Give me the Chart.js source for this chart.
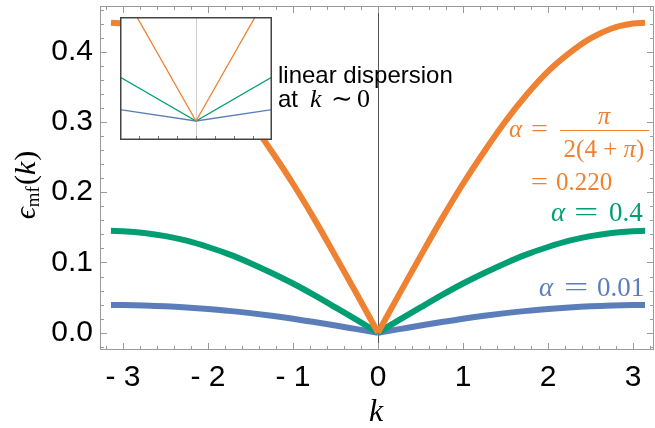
<!DOCTYPE html>
<html>
<head>
<meta charset="utf-8">
<script src="https://cdn.jsdelivr.net/npm/chart.js@4.4.1/dist/chart.umd.min.js"></script>
<style>
  html, body { margin: 0; padding: 0; background: #fff; }
  #wrap { position: relative; width: 655px; height: 428px; }
  #mainChart { position: absolute; left: 0; top: 0; }
  #insetChart { position: absolute; left: 120px; top: 17px; background: #fff; }
</style>
</head>
<body>
<div id="wrap">
  <canvas id="mainChart" width="655" height="428"></canvas>
  <canvas id="insetChart" width="152" height="123"></canvas>
</div>
<script>
// values (k from -pi to pi)
const kValues = [-3.1416, -3, -2.75, -2.5, -2.25, -2, -1.75, -1.5, -1.25, -1, -0.75, -0.5, -0.25,
  0, 0.25, 0.5, 0.75, 1, 1.25, 1.5, 1.75, 2, 2.25, 2.5, 2.75, 3, 3.1416];

const orangeVals = [0.441, 0.440, 0.433, 0.419, 0.398, 0.372, 0.339, 0.301, 0.258, 0.212, 0.162, 0.109, 0.055,
  0, 0.055, 0.109, 0.162, 0.212, 0.258, 0.301, 0.339, 0.372, 0.398, 0.419, 0.433, 0.440, 0.441];
const greenVals = [0.145, 0.1445, 0.142, 0.1375, 0.131, 0.122, 0.1115, 0.099, 0.085, 0.070, 0.0535, 0.036, 0.0182,
  0, 0.0182, 0.036, 0.0535, 0.070, 0.085, 0.099, 0.1115, 0.122, 0.131, 0.1375, 0.142, 0.1445, 0.145];
const blueVals = [0.0395, 0.0394, 0.0387, 0.0376, 0.0359, 0.0337, 0.0311, 0.0279, 0.0242, 0.0200, 0.0152, 0.0102, 0.0051,
  0, 0.0051, 0.0102, 0.0152, 0.0200, 0.0242, 0.0279, 0.0311, 0.0337, 0.0359, 0.0376, 0.0387, 0.0394, 0.0395];

// inset: zoom around k ~ 0
const insetK = [-0.1, 0, 0.1];
const insetOrange = [0.0222, 0, 0.0222];
const insetGreen = [0.0073, 0, 0.0073];
const insetBlue = [0.0019, 0, 0.0019];

const xTicks = [-3, -2, -1, 0, 1, 2, 3];
const yTicks = [0, 0.1, 0.2, 0.3, 0.4];

const ORANGE = "#ef8132";
const GREEN = "#009e72";
const BLUE = "#5b7ebb";
const FRAME = "#9a9a9a";
const SANS = "'Liberation Sans', Arial, sans-serif";
const SERIF = "'Liberation Serif', 'DejaVu Serif', serif";

function series(xs, ys, color, width, smooth) {
  return {
    data: xs.map((k, i) => ({ x: k, y: ys[i] })),
    borderColor: color,
    borderWidth: width,
    pointRadius: 0,
    fill: false,
    tension: 0,
    cubicInterpolationMode: smooth ? "monotone" : "default",
  };
}

// the cusp at k = 0 must stay sharp, so each curve is drawn as two smooth halves
const mid = kValues.indexOf(0);
function halves(ys, color) {
  return [
    series(kValues.slice(0, mid + 1), ys.slice(0, mid + 1), color, 6, true),
    series(kValues.slice(mid), ys.slice(mid), color, 6, true),
  ];
}

// draw text pieces with mixed fonts one after another
function runs(ctx, parts, x, y, align) {
  let total = 0;
  parts.forEach((p) => { ctx.font = p.f; total += ctx.measureText(p.t).width + (p.gap || 0); });
  let cx = align === "center" ? x - total / 2 : x;
  ctx.textAlign = "left";
  ctx.textBaseline = "alphabetic";
  parts.forEach((p) => {
    ctx.font = p.f;
    ctx.fillText(p.t, cx, y + (p.dy || 0));
    cx += ctx.measureText(p.t).width + (p.gap || 0);
  });
}

// Mathematica's "=" is wider than the Times one
function wideEq(ctx, x, y, size, stretch) {
  ctx.save();
  ctx.font = `${size}px ${SERIF}`;
  ctx.textAlign = "left";
  ctx.textBaseline = "alphabetic";
  ctx.translate(x, y);
  ctx.scale(stretch, 1);
  ctx.fillText("=", 0, 0);
  ctx.restore();
}

const framePlugin = {
  id: "frame",
  beforeDatasetsDraw(chart) {
    const { ctx, chartArea: a, scales } = chart;
    const x0 = Math.round(scales.x.getPixelForValue(0)) + 0.5;
    ctx.save();
    ctx.strokeStyle = "#555";
    ctx.lineWidth = 1;
    ctx.beginPath();
    ctx.moveTo(x0, a.top);
    ctx.lineTo(x0, a.bottom);
    ctx.stroke();
    ctx.restore();
  },
  afterDatasetsDraw(chart) {
    const { ctx, chartArea: a, scales } = chart;
    const xs = scales.x, ys = scales.y;
    ctx.save();
    ctx.strokeStyle = FRAME;
    ctx.lineWidth = 1;
    ctx.beginPath();
    // x ticks, inward, bottom and top
    for (let i = -16; i <= 16; i++) {
      const len = i % 5 === 0 ? 7 : 4;
      const px = Math.round(xs.getPixelForValue(i * 0.2)) + 0.5;
      ctx.moveTo(px, a.bottom); ctx.lineTo(px, a.bottom - len);
      ctx.moveTo(px, a.top); ctx.lineTo(px, a.top + len);
    }
    // y ticks, inward, left and right
    for (let i = -1; i <= 23; i++) {
      const len = i % 5 === 0 ? 7 : 4;
      const py = Math.round(ys.getPixelForValue(i * 0.02)) + 0.5;
      ctx.moveTo(a.left, py); ctx.lineTo(a.left + len, py);
      ctx.moveTo(a.right, py); ctx.lineTo(a.right - len, py);
    }
    ctx.stroke();
    ctx.strokeRect(Math.round(a.left) + 0.5, Math.round(a.top) + 0.5,
      Math.round(a.right - a.left) - 1, Math.round(a.bottom - a.top) - 1);

    // curve labels
    const it = (s) => `italic ${s}px ${SERIF}`;
    const up = (s) => `${s}px ${SERIF}`;
    ctx.fillStyle = ORANGE;
    runs(ctx, [{ t: "α", f: it(25) }], 509, 137);
    wideEq(ctx, 531, 137, 25, 1.2);
    runs(ctx, [{ t: "π", f: it(25) }], 604, 124, "center");
    ctx.strokeStyle = ORANGE;
    ctx.beginPath();
    ctx.moveTo(560, 130.5); ctx.lineTo(649, 130.5);
    ctx.stroke();
    runs(ctx, [{ t: "2(4 + ", f: up(25) }, { t: "π", f: it(25) }, { t: ")", f: up(25) }], 604, 157, "center");
    wideEq(ctx, 531, 190, 25, 1.2);
    runs(ctx, [{ t: "0.220", f: up(25) }], 556, 190);

    ctx.fillStyle = GREEN;
    runs(ctx, [{ t: "α", f: it(27) }], 551, 221);
    wideEq(ctx, 574, 221, 27, 1.6);
    runs(ctx, [{ t: "0.4", f: up(27) }], 609, 221);

    ctx.fillStyle = BLUE;
    runs(ctx, [{ t: "α", f: it(27) }], 539, 296);
    wideEq(ctx, 564, 296, 27, 1.6);
    runs(ctx, [{ t: "0.01", f: up(27) }], 597, 296);

    // inset caption
    ctx.fillStyle = "#000";
    runs(ctx, [{ t: "linear dispersion", f: `24px ${SANS}` }], 278, 83);
    runs(ctx, [{ t: "at", f: `24px ${SANS}` }], 278, 107);
    runs(ctx, [{ t: "k", f: it(26) }], 310, 107);
    runs(ctx, [{ t: "∼", f: up(26) }], 331, 107);
    runs(ctx, [{ t: "0", f: up(26) }], 357, 107);

    // axis titles
    runs(ctx, [{ t: "k", f: it(32) }], 376, 421, "center");
    ctx.translate(35, 185);
    ctx.rotate(-Math.PI / 2);
    runs(ctx, [
      { t: "ϵ", f: it(30) },
      { t: "mf", f: up(19), dy: 4, gap: 1 },
      { t: "(", f: up(30) },
      { t: "k", f: it(30), gap: 1 },
      { t: ")", f: up(30) },
    ], 0, 0, "center");
    ctx.restore();
  },
};

new Chart(document.getElementById("mainChart"), {
  type: "line",
  data: {
    datasets: [
      ...halves(orangeVals, ORANGE),
      ...halves(greenVals, GREEN),
      ...halves(blueVals, BLUE),
    ],
  },
  options: {
    responsive: false,
    animation: false,
    layout: { padding: { top: 6, right: 1, left: 0, bottom: 0 } },
    plugins: { legend: { display: false }, tooltip: { enabled: false } },
    scales: {
      x: {
        type: "linear",
        min: -3.2706,
        max: 3.247,
        grid: { display: false, drawTicks: false },
        border: { display: false },
        afterBuildTicks: (s) => { s.ticks = xTicks.map((v) => ({ value: v })); },
        afterFit: (s) => { s.height = 78; s.paddingLeft = 0; s.paddingRight = 0; },
        ticks: {
          padding: 10,
          color: "#000",
          autoSkip: false,
          maxRotation: 0,
          font: { family: SANS, size: 30 },
          callback: (v) => (v < 0 ? "- " + Math.abs(v) : String(v)),
        },
      },
      y: {
        type: "linear",
        min: -0.0246,
        max: 0.465,
        grid: { display: false, drawTicks: false },
        border: { display: false },
        afterBuildTicks: (s) => { s.ticks = yTicks.map((v) => ({ value: v })); },
        afterFit: (s) => { s.width = 100; s.paddingTop = 0; s.paddingBottom = 0; },
        ticks: {
          padding: 7,
          color: "#000",
          font: { family: SANS, size: 30 },
          callback: (v) => v.toFixed(1),
        },
      },
    },
  },
  plugins: [framePlugin],
});

const insetPlugin = {
  id: "insetFrame",
  beforeDatasetsDraw(chart) {
    const { ctx, chartArea: a, scales } = chart;
    const x0 = Math.round(scales.x.getPixelForValue(0)) + 0.5;
    ctx.save();
    ctx.strokeStyle = "#d0d0d0";
    ctx.lineWidth = 1;
    ctx.beginPath();
    ctx.moveTo(x0, a.top); ctx.lineTo(x0, a.bottom);
    ctx.stroke();
    ctx.restore();
  },
  afterDatasetsDraw(chart) {
    const { ctx, chartArea: a, scales } = chart;
    ctx.save();
    ctx.strokeStyle = "#777";
    ctx.lineWidth = 1;
    ctx.beginPath();
    for (let i = -3; i <= 3; i++) {
      const px = Math.round(scales.x.getPixelForValue(i * 0.025)) + 0.5;
      ctx.moveTo(px, a.bottom); ctx.lineTo(px, a.bottom - 4);
    }
    ctx.stroke();
    ctx.strokeStyle = "#444";
    ctx.lineWidth = 1.5;
    ctx.strokeRect(a.left + 0.75, a.top + 0.75, a.right - a.left - 1.5, a.bottom - a.top - 1.5);
    ctx.restore();
  },
};

new Chart(document.getElementById("insetChart"), {
  type: "line",
  data: {
    datasets: [
      series(insetK, insetOrange, ORANGE, 1.3, false),
      series(insetK, insetGreen, GREEN, 1.3, false),
      series(insetK, insetBlue, BLUE, 1.3, false),
    ],
  },
  options: {
    responsive: false,
    animation: false,
    layout: { padding: 0 },
    plugins: { legend: { display: false }, tooltip: { enabled: false } },
    scales: {
      x: { type: "linear", display: false, min: -0.1, max: 0.1 },
      y: { type: "linear", display: false, min: -0.00315, max: 0.01726 },
    },
  },
  plugins: [insetPlugin],
});
</script>
</body>
</html>
